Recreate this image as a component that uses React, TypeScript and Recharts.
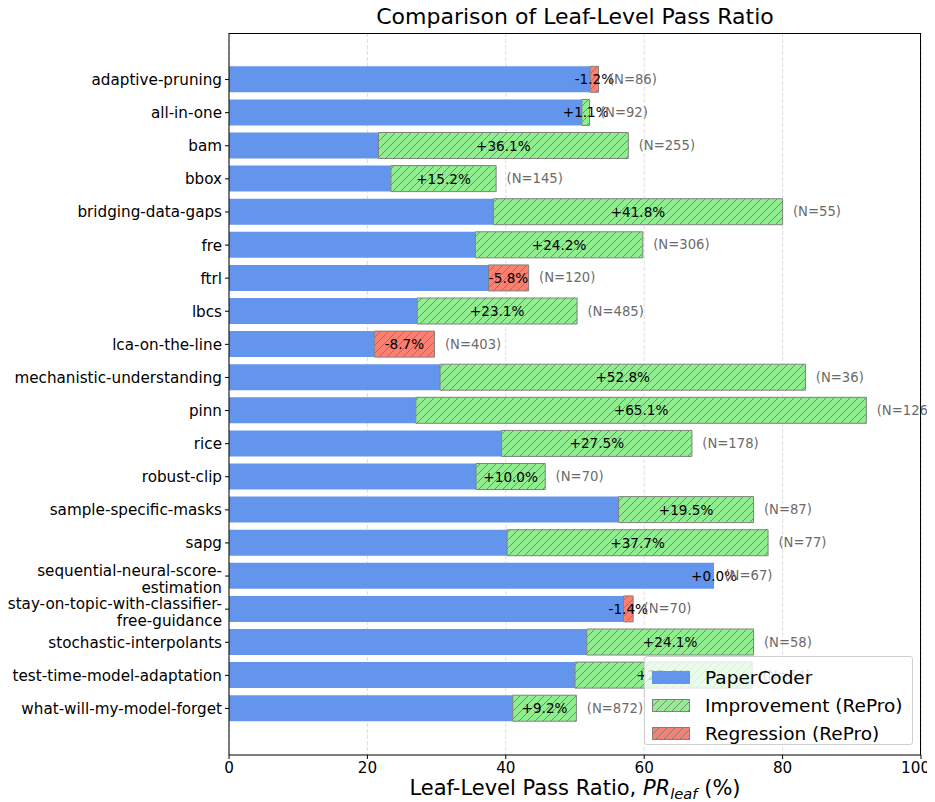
import React from "react";
import { BarChart, Bar, XAxis, YAxis, CartesianGrid, LabelList } from "recharts";

const categories = [
  "adaptive-pruning",
  "all-in-one",
  "bam",
  "bbox",
  "bridging-data-gaps",
  "fre",
  "ftrl",
  "lbcs",
  "lca-on-the-line",
  "mechanistic-understanding",
  "pinn",
  "rice",
  "robust-clip",
  "sample-specific-masks",
  "sapg",
  "sequential-neural-score-\nestimation",
  "stay-on-topic-with-classifier-\nfree-guidance",
  "stochastic-interpolants",
  "test-time-model-adaptation",
  "what-will-my-model-forget",
];

// PaperCoder pass ratio (%)
const paperCoder = [
  53.4, 51.0, 21.6, 23.4, 38.2, 35.6, 43.3, 27.2, 29.7, 30.5,
  27.0, 39.4, 35.7, 56.3, 40.2, 70.1, 58.4, 51.7, 50.0, 41.0,
];

// RePro change vs PaperCoder (percentage points)
const deltas = [
  -1.2, 1.1, 36.1, 15.2, 41.8, 24.2, -5.8, 23.1, -8.7, 52.8,
  65.1, 27.5, 10.0, 19.5, 37.7, 0.0, -1.4, 24.1, 25.6, 9.2,
];

const sampleCounts = [
  86, 92, 255, 145, 55, 306, 120, 485, 403, 36,
  126, 178, 70, 87, 77, 67, 70, 58, 64, 872,
];

const xTicks = [0, 20, 40, 60, 80, 100];

const FONT = "'DejaVu Sans', sans-serif";
const TICK_FS = 15.2;

const rows = categories.map((name, i) => {
  const d = deltas[i];
  return {
    name,
    i,
    base: d < 0 ? Math.round((paperCoder[i] + d) * 10) / 10 : paperCoder[i],
    gain: d > 0 ? d : 0,
    loss: d < 0 ? -d : 0,
  };
});

const fmtDelta = (d: number) => (d < 0 ? `${d.toFixed(1)}%` : `+${d.toFixed(1)}%`);

const YTick = (props: any) => {
  const { x, y, payload } = props;
  const lines = String(payload.value).split("\n");
  const lh = 17;
  const y0 = lines.length > 1 ? y - 5.5 : y;
  return (
    <text x={x} y={y0} textAnchor="end" fontSize={TICK_FS} fill="#000" fontFamily={FONT}>
      {lines.map((l, k) => (
        <tspan key={k} x={x} dy={k === 0 ? "0.36em" : lh}>
          {l}
        </tspan>
      ))}
    </text>
  );
};

// labels placed from the blue bar geometry (its width / value gives the x scale)
const ChangeLabel = (props: any) => {
  const { x, y, width, height, value } = props;
  const i = Number(value);
  const r = rows[i];
  if (!r) return null;
  const d = deltas[i];
  const pxPerUnit = width / r.base;
  const segStart = x + width;
  const segEnd = segStart + Math.abs(d) * pxPerUnit;
  const cy = y + height / 2;
  return (
    <g fontFamily={FONT}>
      <text x={(segStart + segEnd) / 2} y={cy} textAnchor="middle" dominantBaseline="central" fill="#000" fontSize={13.6}>
        {fmtDelta(d)}
      </text>
      <text x={segEnd + 1.5 * pxPerUnit} y={cy} textAnchor="start" dominantBaseline="central" fill="#6b6b6b" fontSize={13.2}>
        {`(N=${sampleCounts[i]})`}
      </text>
    </g>
  );
};

const XLabel = (props: any) => {
  const vb = props.viewBox || {};
  const cx = vb.x + vb.width / 2;
  return (
    <text x={cx} y={vb.y + 40} textAnchor="middle" fontSize={21} fontFamily={FONT} fill="#000">
      Leaf-Level Pass Ratio,{" "}
      <tspan fontStyle="italic">PR</tspan>
      <tspan fontStyle="italic" fontSize={14.7} dy={4}>
        leaf
      </tspan>
      <tspan dy={-4}> (%)</tspan>
    </text>
  );
};

const legendItems = [
  { label: "PaperCoder", fill: "#6495ED", hatch: "" },
  { label: "Improvement (RePro)", fill: "#90EE90", hatch: "hatchGreen" },
  { label: "Regression (RePro)", fill: "#FA8072", hatch: "hatchRed" },
];

const Swatch = ({ fill, hatch }: { fill: string; hatch: string }) => (
  <svg width={38} height={13} style={{ display: "block" }}>
    {hatch ? (
      <rect x={0.5} y={0.5} width={37} height={12} fill={`url(#${hatch})`} stroke="#808080" strokeWidth={1} />
    ) : (
      <rect x={0} y={0} width={38} height={13} fill={fill} />
    )}
  </svg>
);

export default function App() {
  return (
    <div style={{ position: "relative", width: 919, height: 794, fontFamily: FONT }}>
      <div
        style={{
          position: "absolute",
          left: 221,
          width: 692,
          top: -4,
          textAlign: "center",
          fontSize: 22,
          lineHeight: "26px",
          color: "#000",
        }}
      >
        Comparison of Leaf-Level Pass Ratio
      </div>
      <BarChart
        width={919}
        height={794}
        data={rows}
        layout="vertical"
        margin={{ top: 25, right: 6, left: 8, bottom: 0 }}
        barCategoryGap="10%"
      >
        <defs>
          <pattern id="hatchGreen" patternUnits="userSpaceOnUse" width="8" height="8">
            <rect width="8" height="8" fill="#90EE90" />
            <path d="M-2,2 L2,-2 M0,8 L8,0 M6,10 L10,6" stroke="#7a7a7a" strokeWidth="0.9" />
          </pattern>
          <pattern id="hatchRed" patternUnits="userSpaceOnUse" width="8" height="8">
            <rect width="8" height="8" fill="#FA8072" />
            <path d="M-2,2 L2,-2 M0,8 L8,0 M6,10 L10,6" stroke="#7a7a7a" strokeWidth="0.9" />
          </pattern>
        </defs>
        <CartesianGrid horizontal={false} stroke="#dedede" strokeDasharray="4 2" />
        <XAxis
          type="number"
          domain={[0, 100]}
          ticks={xTicks}
          tickSize={4}
          tickMargin={3}
          height={47}
          stroke="#000"
          tick={{ fill: "#000", fontSize: TICK_FS, fontFamily: FONT }}
          label={<XLabel />}
        />
        <YAxis
          type="category"
          dataKey="name"
          width={213}
          interval={0}
          tickSize={4}
          tickMargin={3}
          padding={{ top: 30, bottom: 30 }}
          stroke="#000"
          tick={<YTick />}
        />
        <Bar dataKey="base" stackId="s" fill="#6495ED" isAnimationActive={false}>
          <LabelList dataKey="i" content={<ChangeLabel />} />
        </Bar>
        <Bar dataKey="gain" stackId="s" fill="url(#hatchGreen)" stroke="#808080" strokeWidth={1} isAnimationActive={false} />
        <Bar dataKey="loss" stackId="s" fill="url(#hatchRed)" stroke="#808080" strokeWidth={1} isAnimationActive={false} />
      </BarChart>
      <div
        style={{
          position: "absolute",
          left: 221,
          top: 25,
          width: 692,
          height: 722,
          borderTop: "1px solid #000",
          borderRight: "1px solid #000",
          boxSizing: "border-box",
          pointerEvents: "none",
        }}
      />
      <div
        style={{
          position: "absolute",
          left: 636,
          top: 648,
          width: 267,
          height: 87,
          border: "1px solid #d0d0d0",
          borderRadius: 3,
          background: "rgba(255,255,255,0.8)",
        }}
      >
        {legendItems.map((it, k) => (
          <div
            key={it.label}
            style={{
              position: "absolute",
              left: 7,
              top: 8 + k * 28,
              display: "flex",
              alignItems: "center",
              height: 24,
            }}
          >
            <Swatch fill={it.fill} hatch={it.hatch} />
            <span style={{ marginLeft: 15, fontSize: 18.5, color: "#000", whiteSpace: "nowrap" }}>{it.label}</span>
          </div>
        ))}
      </div>
    </div>
  );
}
